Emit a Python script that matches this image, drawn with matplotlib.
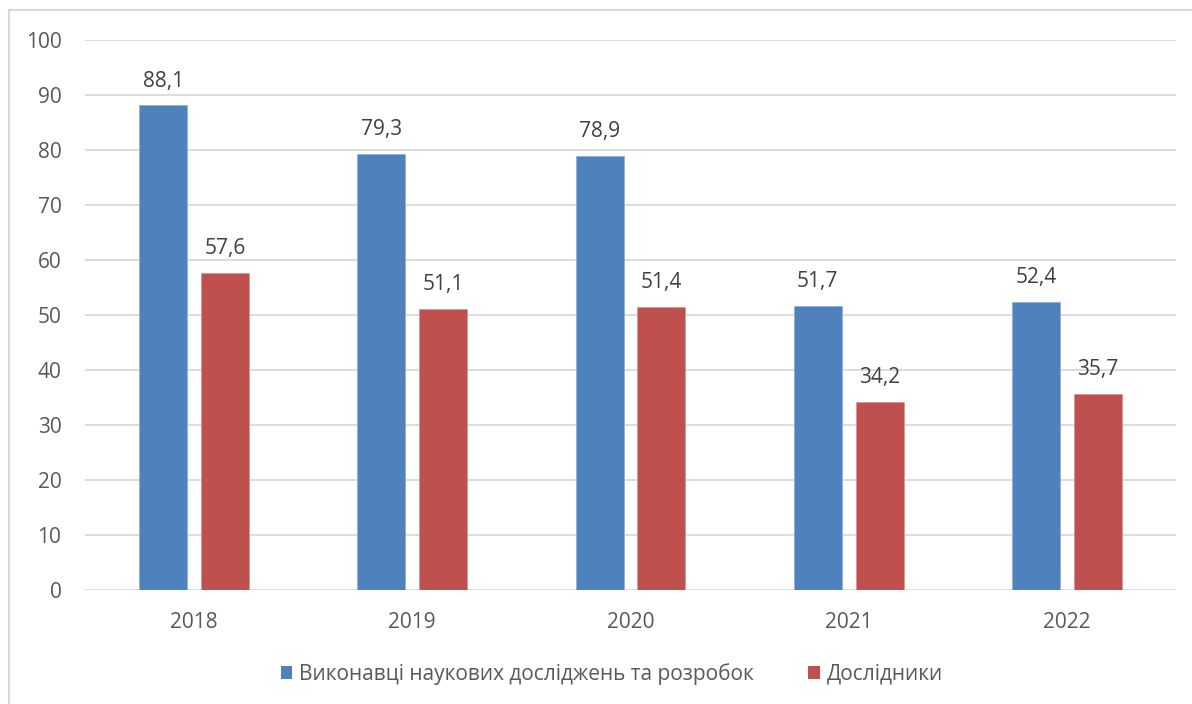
import matplotlib
matplotlib.use("Agg")
import matplotlib.pyplot as plt
import numpy as np
from matplotlib.patches import Patch

years = ["2018", "2019", "2020", "2021", "2022"]
performers = [88.1, 79.3, 78.9, 51.7, 52.4]
researchers = [57.6, 51.1, 51.4, 34.2, 35.7]
series_names = ["Виконавці наукових досліджень та розробок", "Дослідники"]
colors = ["#4F81BD", "#C0504D"]
yticks = [0, 10, 20, 30, 40, 50, 60, 70, 80, 90, 100]

plt.rcParams['font.family'] = ['Open Sans', 'DejaVu Sans']

W, H = 1192, 704
fig = plt.figure(figsize=(W / 100, H / 100), dpi=100)
ax = fig.add_axes([85 / W, 1 - 590 / H, (1176 - 85) / W, (590 - 40) / H])

x = np.arange(len(years))
bw = 0.22
off = 0.142
b1 = ax.bar(x - off, performers, bw, color=colors[0], edgecolor="#8FB0DA", linewidth=0.6, zorder=3)
b2 = ax.bar(x + off, researchers, bw, color=colors[1], edgecolor="#DB9593", linewidth=0.6, zorder=3)

for bars, vals in ((b1, performers), (b2, researchers)):
    for rect, v in zip(bars, vals):
        ax.annotate(f"{v:.1f}".replace(".", ","),
                    (rect.get_x() + rect.get_width() / 2, v),
                    xytext=(0, 10), textcoords="offset points",
                    ha="center", va="bottom", fontsize=15, color="#404040")

ax.set_xlim(-0.5, len(years) - 0.5)
ax.set_ylim(0, 100)
ax.set_yticks(yticks)
ax.set_xticks(x)
ax.set_xticklabels(years)
ax.yaxis.grid(True, color="#D9D9D9", linewidth=1.3, zorder=0)
ax.set_axisbelow(True)
for s in ax.spines.values():
    s.set_visible(False)
ax.tick_params(axis="both", length=0, labelsize=15, labelcolor="#595959")
ax.tick_params(axis="y", pad=17)
ax.tick_params(axis="x", pad=16)

handles = [Patch(facecolor=colors[0]), Patch(facecolor=colors[1])]
fig.legend(handles, series_names, loc="center", bbox_to_anchor=(612 / W, 1 - 674 / H),
           ncol=2, frameon=False, fontsize=15, handlelength=0.55, handleheight=0.55,
           handletextpad=0.35, columnspacing=2.6, labelcolor="#595959")

# outer chart border (top and left visible)
fig.add_artist(plt.Line2D([9 / W, 9 / W], [0, 1 - 10 / H], color="#D9D9D9", linewidth=1.5))
fig.add_artist(plt.Line2D([9 / W, 1], [1 - 10 / H, 1 - 10 / H], color="#D9D9D9", linewidth=1.5))

fig.savefig("out.png", dpi=100)
